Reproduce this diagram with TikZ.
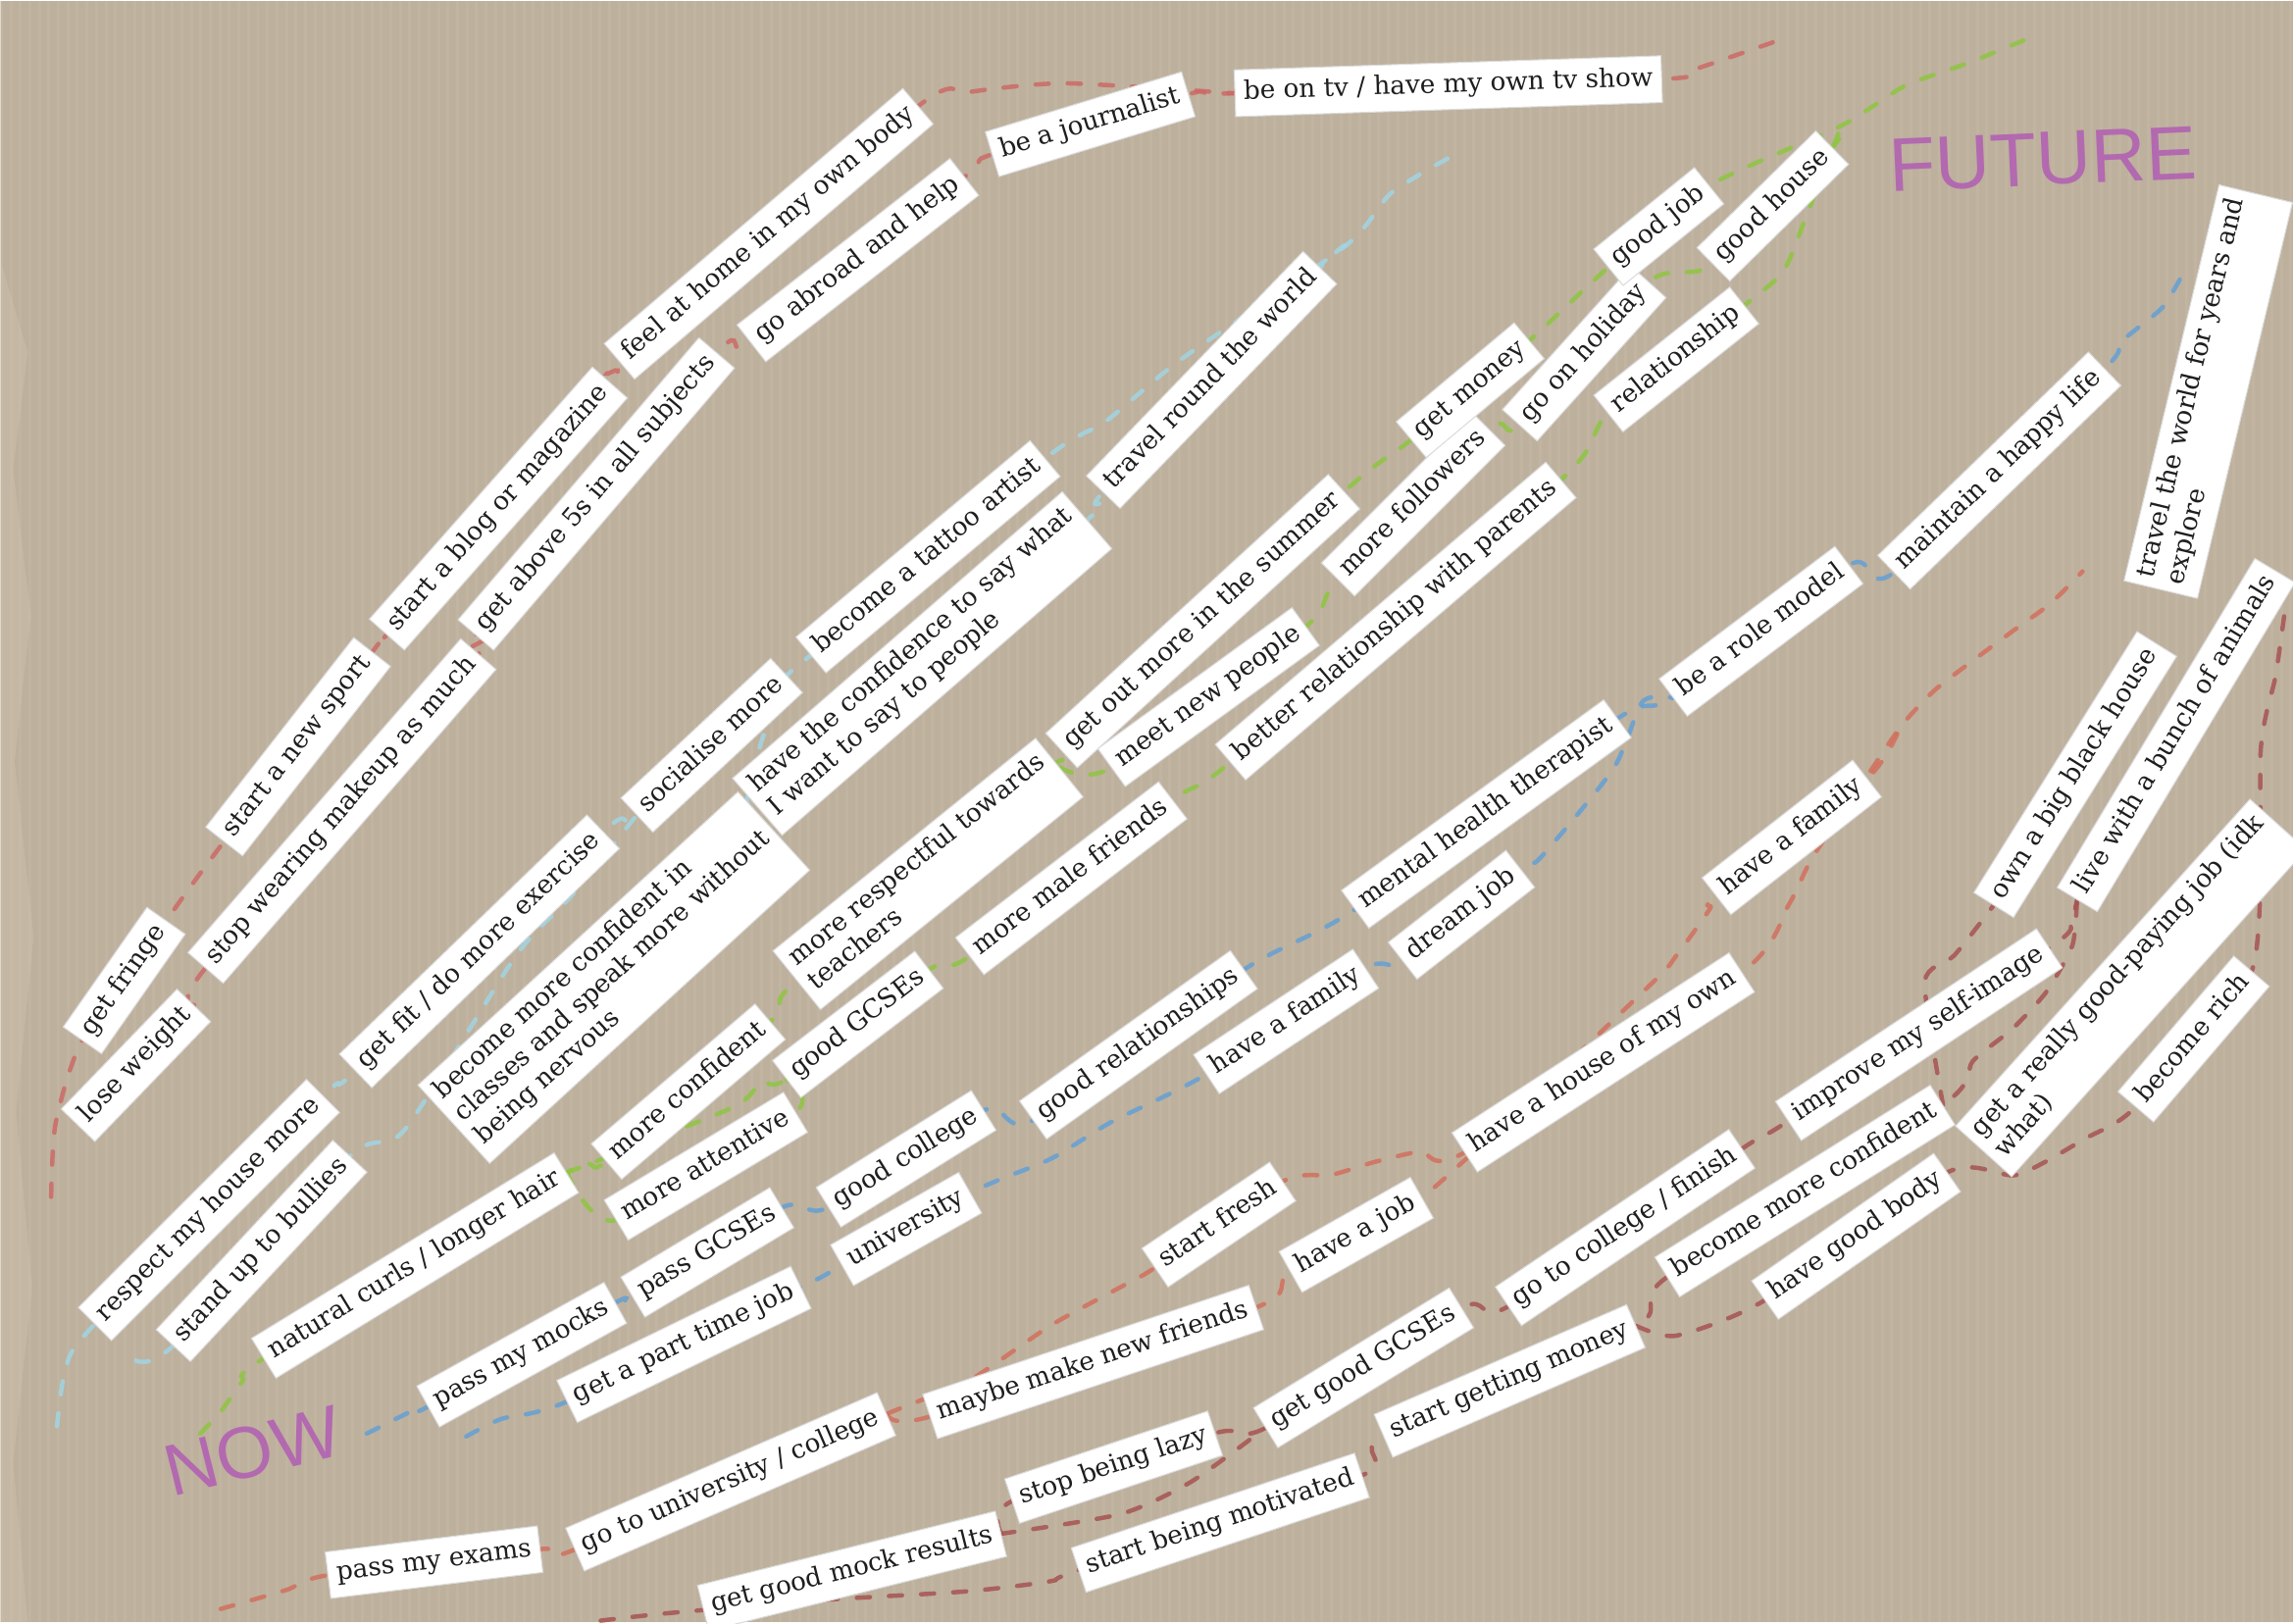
\documentclass[tikz,border=0pt]{standalone}
\usepackage{fontspec}
\setmainfont{DejaVu Serif}
\newfontfamily\handfont{Liberation Sans}
\definecolor{kraft}{HTML}{BDB09D}
\definecolor{kraftlt}{HTML}{C5B9A6}
\definecolor{kraftpale}{HTML}{D3C8B4}
\definecolor{redA}{HTML}{CC6A66}
\definecolor{redB}{HTML}{D2705E}
\definecolor{mroon}{HTML}{A65452}
\definecolor{cyanline}{HTML}{A2D4E2}
\definecolor{greenline}{HTML}{8EC641}
\definecolor{blueline}{HTML}{64A0D4}
\definecolor{purplehand}{HTML}{B05AB4}
\definecolor{ink}{HTML}{1E1E1E}
\pgfdeclarelayer{paper}
\pgfdeclarelayer{trails}
\pgfsetlayers{paper,trails,main}
\begin{document}
\begin{tikzpicture}[x=1pt,y=-1pt,
  strip/.style={fill=white, draw=black!14, line width=0.7pt, inner xsep=6pt, inner ysep=5.5pt,
    text=ink, align=left, font=\fontsize{17.6}{21}\selectfont, execute at begin node=\strut},
  trail/.style={line width=3pt, dash pattern=on 9pt off 13pt, line cap=round, opacity=0.85},
  hand/.style={text=purplehand, opacity=0.82, inner sep=0pt}]
% background
\begin{pgfonlayer}{paper}
\fill[kraft] (0,0) rectangle (1568,1109);
\foreach \i in {0,...,241} { \draw[kraftlt, line width=2pt, opacity=0.55] (\i*6.5,0) -- (\i*6.5,1109); }
\fill[kraftpale, opacity=0.35] (0,180) -- (18,240) -- (8,320) -- (20,420) -- (9,520) -- (22,640) -- (10,760) -- (21,880) -- (8,1000) -- (18,1109) -- (0,1109) -- cycle;
\end{pgfonlayer}
\useasboundingbox (0,0) rectangle (1568,1109);

% ---------- strips ----------
\node[strip, rotate=1.9] (n1) at (990,58) {be on tv / have my own tv show};
\node[strip, rotate=17] (n2) at (745,84) {be a journalist};
\node[strip, rotate=38] (n3) at (586,177) {go abroad and help};
\node[strip, rotate=40.5] (n4) at (525,159) {feel at home in my own body};
\node[strip, rotate=48.5] (n5) at (340,347) {start a blog or magazine};
\node[strip, rotate=49.5] (n6) at (407,337) {get above 5s in all subjects};
\node[strip, rotate=52] (n7) at (203,510) {start a new sport};
\node[strip, rotate=49] (n8) at (233,554) {stop wearing makeup as much};
\node[strip, rotate=55] (n9) at (84,670) {get fringe};
\node[strip, rotate=46] (n10) at (92,728) {lose weight};
\node[strip, rotate=44] (n11) at (327,650) {get fit / do more exercise};
\node[strip, rotate=43] (n12) at (486,509) {socialise more};
\node[strip, rotate=40] (n13) at (634,380) {become a tattoo artist};
\node[strip, rotate=41] (n14) at (630,453) {have the confidence to say what\\I want to say to people\strut};
\node[strip, rotate=42.5] (n15) at (419,668) {become more confident in\\classes and speak more without\\being nervous\strut};
\node[strip, rotate=46] (n16) at (828,259) {travel round the world};
\node[strip, rotate=45] (n17) at (142,827) {respect my house more};
\node[strip, rotate=47] (n18) at (178,855) {stand up to bullies};
\node[strip, rotate=31.5] (n19) at (283,865) {natural curls / longer hair};
\node[strip, rotate=40.5] (n20) at (470,746) {more confident};
\node[strip, rotate=31] (n21) at (482,797) {more attentive};
\node[strip, rotate=39] (n22) at (634,597) {more respectful towards\\teachers\strut};
\node[strip, rotate=37.5] (n23) at (586,700) {good GCSEs};
\node[strip, rotate=37.5] (n24) at (732,600) {more male friends};
\node[strip, rotate=42.5] (n25) at (822,424) {get out more in the summer};
\node[strip, rotate=36] (n26) at (826,476) {meet new people};
\node[strip, rotate=45] (n27) at (966,344) {more followers};
\node[strip, rotate=40.5] (n28) at (954,424) {better relationship with parents};
\node[strip, rotate=40] (n29) at (1005,266) {get money};
\node[strip, rotate=48] (n30) at (1083,241) {go on holiday};
\node[strip, rotate=39] (n31) at (1134,154) {good job};
\node[strip, rotate=44.5] (n32) at (1212,140) {good house};
\node[strip, rotate=38.5] (n33) at (1146,245) {relationship};
\node[strip, rotate=36] (n34) at (1016,556) {mental health therapist};
\node[strip, rotate=37] (n35) at (1204,431) {be a role model};
\node[strip, rotate=44] (n36) at (1367,321) {maintain a happy life};
\node[strip, rotate=76.5] (n37) at (1510,267) {travel the world for years and\\explore\strut};
\node[strip, rotate=58] (n38) at (1419,529) {own a big black house};
\node[strip, rotate=59] (n39) at (1488,502) {live with a bunch of animals};
\node[strip, rotate=49.5] (n40) at (1500,710) {become rich};
\node[strip, rotate=48] (n41) at (1457,675) {get a really good-paying job (idk\\what)\strut};
\node[strip, rotate=38] (n42) at (1225,572) {have a family};
\node[strip, rotate=38] (n43) at (999,625) {dream job};
\node[strip, rotate=33.5] (n44) at (879,698) {have a family};
\node[strip, rotate=35.5] (n45) at (778,714) {good relationships};
\node[strip, rotate=32] (n46) at (619,792) {good college};
\node[strip, rotate=29.5] (n47) at (619,840) {university};
\node[strip, rotate=31] (n48) at (483,856) {pass GCSEs};
\node[strip, rotate=29] (n49) at (356,926) {pass my mocks};
\node[strip, rotate=26] (n50) at (467,919) {get a part time job};
\node[strip, rotate=33] (n51) at (1096,726) {have a house of my own};
\node[strip, rotate=33.5] (n52) at (1312,707) {improve my self-image};
\node[strip, rotate=34] (n53) at (833,837) {start fresh};
\node[strip, rotate=29.5] (n54) at (927,844) {have a job};
\node[strip, rotate=34] (n55) at (1111,839) {go to college / finish};
\node[strip, rotate=32] (n56) at (1234,814) {become more confident};
\node[strip, rotate=35] (n57) at (1269,845) {have good body};
\node[strip, rotate=18.5] (n58) at (747,931) {maybe make new friends};
\node[strip, rotate=31.5] (n59) at (932,935) {get good GCSEs};
\node[strip, rotate=23.5] (n60) at (1032,944) {start getting money};
\node[strip, rotate=23.5] (n61) at (499,1013) {go to university / college};
\node[strip, rotate=18.5] (n62) at (761,1003) {stop being lazy};
\node[strip, rotate=18.5] (n63) at (834,1041) {start being motivated};
\node[strip, rotate=14] (n64) at (582,1074) {get good mock results};
\node[strip, rotate=7] (n65) at (296,1068) {pass my exams};

% ---------- handwritten labels ----------
\node[hand, rotate=2.5, font=\handfont\fontsize{52}{52}\selectfont] (future) at (1397,108) {FUTURE};
\node[hand, rotate=14, font=\handfont\fontsize{50}{50}\selectfont] (now) at (172,992) {NOW};

% ---------- dashed trails (behind strips) ----------
\begin{pgfonlayer}{trails}
\tikzset{every plot/.style={smooth, tension=0.4}}
% red (top)
\draw[trail, redA] plot coordinates {(34,818) (37,768) (n9.west) (n9.east) (n7.west) (n7.east) (n5.west) (n5.east) (n4.west) (n4.east) (662,62) (728,56) (n1.west)};
\draw[trail, redA] plot coordinates {(n10.east) (n8.west) (n8.east) (n6.west) (n6.east) (n3.west) (n3.east) (n2.west) (n2.east) (n1.west) (n1.east) (1160,46) (1212,28)};
% cyan
\draw[trail, cyanline] plot coordinates {(38,975) (44,935) (n17.west) (n17.east) (n11.west) (n11.east) (n12.west) (n12.east) (n13.west) (n13.east) (756,287) (807,245) (920,167) (951,131) (994,105)};
\draw[trail, cyanline] plot coordinates {(n12.east) (n14.west) (n14.east) (n16.west) (n16.east) (920,167)};
\draw[trail, cyanline] plot coordinates {(92,930) (n18.west) (n18.east) (276,772) (352,653) (390,612) (n12.west)};
% green
\draw[trail, greenline] plot coordinates {(136,980) (150,965) (165,944) (n19.west) (n19.east) (n20.west) (n20.east) (n22.west) (n22.east) (n25.west) (n25.east) (n29.west) (n29.east) (n31.west) (n31.east) (1259,85) (1302,58) (1346,42) (1390,24)};
\draw[trail, greenline] plot coordinates {(n19.east) (500,757) (520,739) (n23.west) (n23.east) (n24.west) (n24.east) (n28.west) (n28.east) (n33.west) (n33.east) (1219,185) (1233,152) (1259,85)};
\draw[trail, greenline] plot coordinates {(n22.east) (n26.west) (n26.east) (n27.west) (n27.east) (n30.west) (n30.east) (n32.west) (n32.east) (1259,85)};
\draw[trail, greenline] plot coordinates {(n19.east) (n21.west) (n21.east) (n23.west)};
% blue
\draw[trail, blueline] plot coordinates {(250,980) (262,974) (284,963) (n49.west) (n49.east) (n48.west) (n48.east) (n46.west) (n46.east) (n45.west) (n45.east) (n34.west) (n34.east) (n35.west) (n35.east) (n36.west) (n36.east) (1449,234) (1479,209) (1496,180)};
\draw[trail, blueline] plot coordinates {(318,982) (342,970) (n50.west) (n50.east) (n47.west) (n47.east) (718,792) (759,767) (n44.west) (n44.east) (n43.west) (n43.east) (1053,586) (1103,525) (1123,479) (n35.west)};
% red (lower)
\draw[trail, redB] plot coordinates {(150,1100) (195,1087) (n65.west) (n65.east) (n61.west) (n61.east) (660,945) (718,906) (769,878) (n53.west) (n53.east) (910,803) (940,794) (971,787) (n51.west) (n51.east) (1223,618) (1239,586) (1270,540) (1299,497) (1322,472) (1349,451) (1376,431) (1402,412) (1424,390)};
\draw[trail, redB] plot coordinates {(n61.east) (n58.west) (n58.east) (n54.west) (n54.east) (1126,675) (1146,653) (1169,621) (n42.west) (n42.east) (1299,497)};
% maroon (lowest)
\draw[trail, mroon] plot coordinates {(410,1108) (455,1103) (560,1094) (660,1088) (718,1081) (n63.west) (n63.east) (n60.west) (n60.east) (n56.west) (n56.east) (1349,725) (1376,703) (1399,678) (1417,646) (n39.west)};
\draw[trail, mroon] plot coordinates {(n60.east) (1146,913) (n57.west) (n57.east) (1379,803) (1426,778) (n40.west) (n40.east) (1546,511) (1556,462) (1562,420)};
\draw[trail, mroon] plot coordinates {(n64.east) (n62.west) (n62.east) (n59.west) (n59.east) (n55.west) (n55.east) (n52.west) (n52.east) (1416,630) (n39.west)};
\draw[trail, mroon] plot coordinates {(n64.east) (766,1035) (814,1013) (n59.west)};
\draw[trail, mroon] plot coordinates {(n56.east) (1316,671) (1336,653) (1356,628) (n38.west)};
\end{pgfonlayer}
\end{tikzpicture}
\end{document}
